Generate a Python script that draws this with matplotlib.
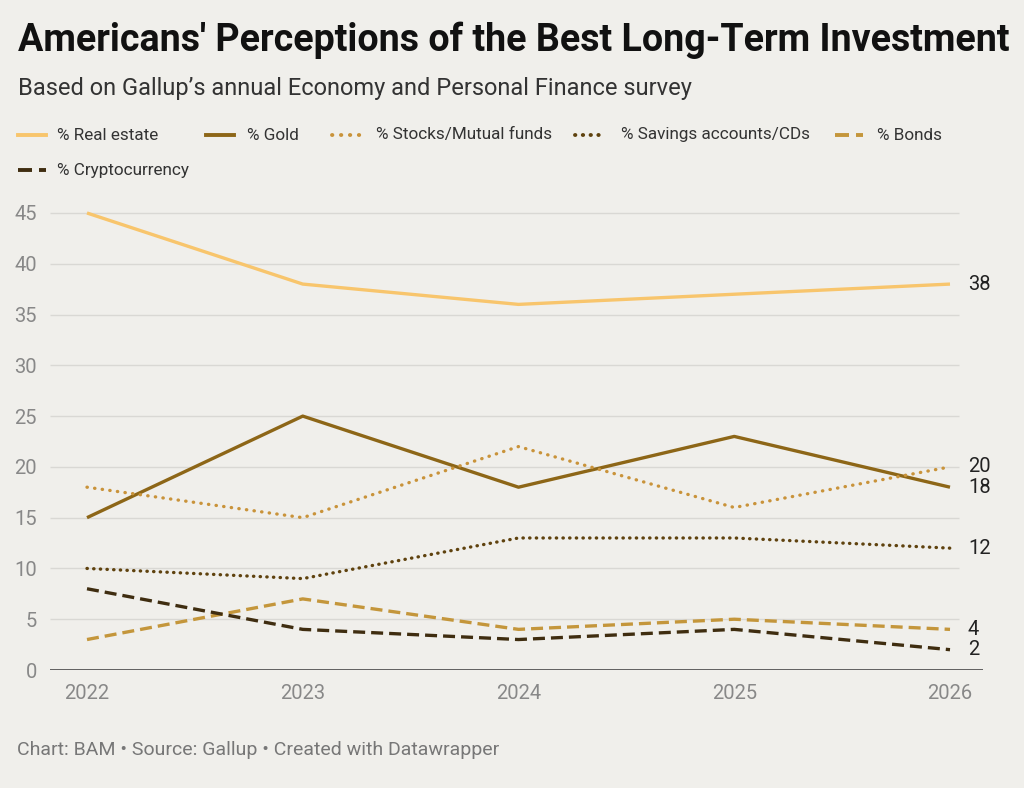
import matplotlib
matplotlib.use("Agg")
import matplotlib.pyplot as plt
from matplotlib.lines import Line2D

years = [2022, 2023, 2024, 2025, 2026]
real_estate = [45, 38, 36, 37, 38]
gold = [15, 25, 18, 23, 18]
stocks = [18, 15, 22, 16, 20]
savings = [10, 9, 13, 13, 12]
bonds = [3, 7, 4, 5, 4]
crypto = [8, 4, 3, 4, 2]

names = ["% Real estate", "% Gold", "% Stocks/Mutual funds",
         "% Savings accounts/CDs", "% Bonds", "% Cryptocurrency"]
series = [real_estate, gold, stocks, savings, bonds, crypto]
colors = ["#f8c56c", "#8d6617", "#c9933a", "#5f420e", "#c4963b", "#3f2d10"]
styles = ["-", "-", (0, (0.1, 2.2)), (0, (0.1, 1.9)), (0, (3.6, 1.8)), (0, (3.6, 1.8))]
caps = ["butt", "butt", "round", "round", "butt", "butt"]
yticks = [0, 5, 10, 15, 20, 25, 30, 35, 40, 45]

bg = "#f0efeb"
plt.rcParams['font.family'] = ['Roboto', 'DejaVu Sans']

fig = plt.figure(figsize=(10.24, 7.88), dpi=100, facecolor=bg)
ax = fig.add_axes([50/1024, 1-670/788, 933/1024, 470/788])
ax.set_facecolor(bg)

x0 = 2022 - 37/215.75
x1 = 2026 + 33/215.75
ax.set_xlim(x0, x1)
ax.set_ylim(0, 45 + 13/10.16)

grid_end = 2026 + 9/215.75
ax.hlines(yticks[1:], x0, grid_end, color="#d9d8d4", lw=1, zorder=1)
ax.axhline(0, color="#555555", lw=1.3, zorder=3)

for vals, c, ls, cap in zip(series, colors, styles, caps):
    ax.plot(years, vals, color=c, lw=2.4, linestyle=ls,
            dash_capstyle=cap, solid_capstyle="butt", zorder=2)

for vals in series:
    ax.text(2026 + 18/215.75, vals[-1], str(vals[-1]), va="center", ha="left",
            fontsize=14.5, color="#222222")

ax.set_yticks(yticks)
ax.set_yticklabels([str(t) for t in yticks])
ax.set_xticks(years)
ax.tick_params(axis="y", length=0, pad=9.4, labelsize=14.5, labelcolor="#888888")
ax.tick_params(axis="x", length=0, pad=10, labelsize=14.5, labelcolor="#888888")
for s in ax.spines.values():
    s.set_visible(False)

title = fig.text(18/1024, 1-40/788, "Americans' Perceptions of the Best Long-Term Investment",
                 fontsize=29, fontweight="bold", color="#111111", va="center")
r = fig.canvas.get_renderer()
w = title.get_window_extent(renderer=r).width
title.set_fontsize(29 * 992 / w)

fig.text(18/1024, 1-88/788, "Based on Gallup\u2019s annual Economy and Personal Finance survey",
         fontsize=17, color="#333333", va="center")

# legend
leg_pos = [(18, 57, 135), (206, 247, 135), (332, 376, 135), (575, 621, 135),
           (835, 877, 135), (18, 57, 170)]
for (lx, tx, ly), name, c, ls, cap in zip(leg_pos, names, colors, styles, caps):
    yy = 1 - ly/788
    fig.add_artist(Line2D([lx/1024, (lx+28)/1024], [yy, yy], transform=fig.transFigure,
                          color=c, lw=2.8, linestyle=ls, dash_capstyle=cap))
    fig.text(tx/1024, yy, name, fontsize=12.3, color="#333333", va="center")

fig.text(17/1024, 1-750/788, "Chart: BAM \u2022 Source: Gallup \u2022 Created with Datawrapper",
         fontsize=14, color="#777777", va="center")

fig.savefig("out.png", dpi=100, facecolor=bg)
